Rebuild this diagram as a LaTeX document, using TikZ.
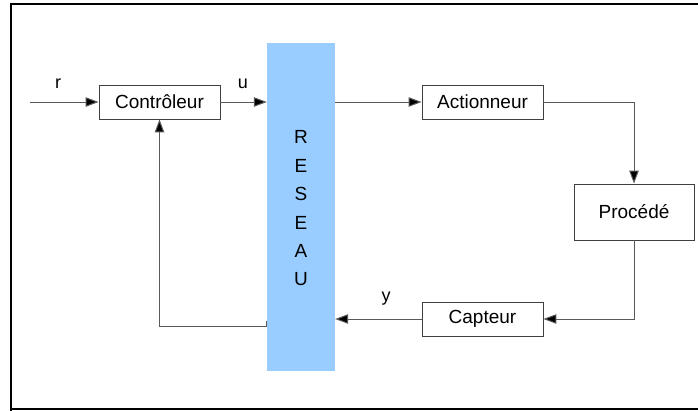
\documentclass[tikz,border=0pt]{standalone}
\usepackage{fontspec}
\setmainfont{Liberation Sans}
\usetikzlibrary{arrows.meta,calc}
\begin{document}
\begin{tikzpicture}[x=1pt,y=-1pt,
  box/.style={draw=black!75,line width=0.9pt,minimum width=121pt,minimum height=34pt,inner sep=0pt,font=\fontsize{19}{21}\selectfont},
  arr/.style={draw=black!65,line width=1pt,-{Triangle[length=13pt,width=9.5pt,fill=black]}},
  lbl/.style={font=\fontsize{18}{20}\selectfont,inner sep=0pt},
  ltr/.style={font=\fontsize{19}{21}\selectfont,inner sep=0pt}]
\useasboundingbox (0,0) rectangle (698,410);
\draw[line width=2pt] (11,412) -- (11,3.5) -- (702,3.5);
\draw[line width=2pt] (11,408.5) -- (702,408.5);
\node[fill={rgb,255:red,153;green,204;blue,255},minimum width=68pt,minimum height=328pt,inner sep=0pt] (res) at (301,207) {};
\node[ltr] (l1) at (301,137) {R};
\node[ltr] (l2) at (301,165.5) {E};
\node[ltr] (l3) at (301,194) {S};
\node[ltr] (l4) at (301,222.5) {E};
\node[ltr] (l5) at (301,251) {A};
\node[ltr] (l6) at (301,279.5) {U};
\node[box] (ctrl) at (159.5,102) {Contrôleur};
\node[box] (act) at (482.5,102) {Actionneur};
\node[box,minimum width=120pt,minimum height=56pt] (proc) at (634,212) {Procédé};
\node[box] (capt) at (482.5,319) {Capteur};
\coordinate (rin) at (30,102);
\coordinate (fb) at (266,321);
\node[lbl] (r) at (58,84) {r};
\node[lbl] (u) at (243,84) {u};
\node[lbl] (y) at (386,299) {y};
\draw[arr] (rin) -- (ctrl.west);
\draw[arr] (ctrl.east) -- (ctrl.east -| res.west);
\draw[arr] (act.west -| res.east) -- (act.west);
\draw[arr] (act.east) -| (proc.north);
\draw[arr] (proc.south) |- (capt.east);
\draw[arr] (capt.west) -- (capt.west -| res.east);
\draw[arr] (fb) -- ++(0,5) -| (ctrl.south);
\end{tikzpicture}
\end{document}
